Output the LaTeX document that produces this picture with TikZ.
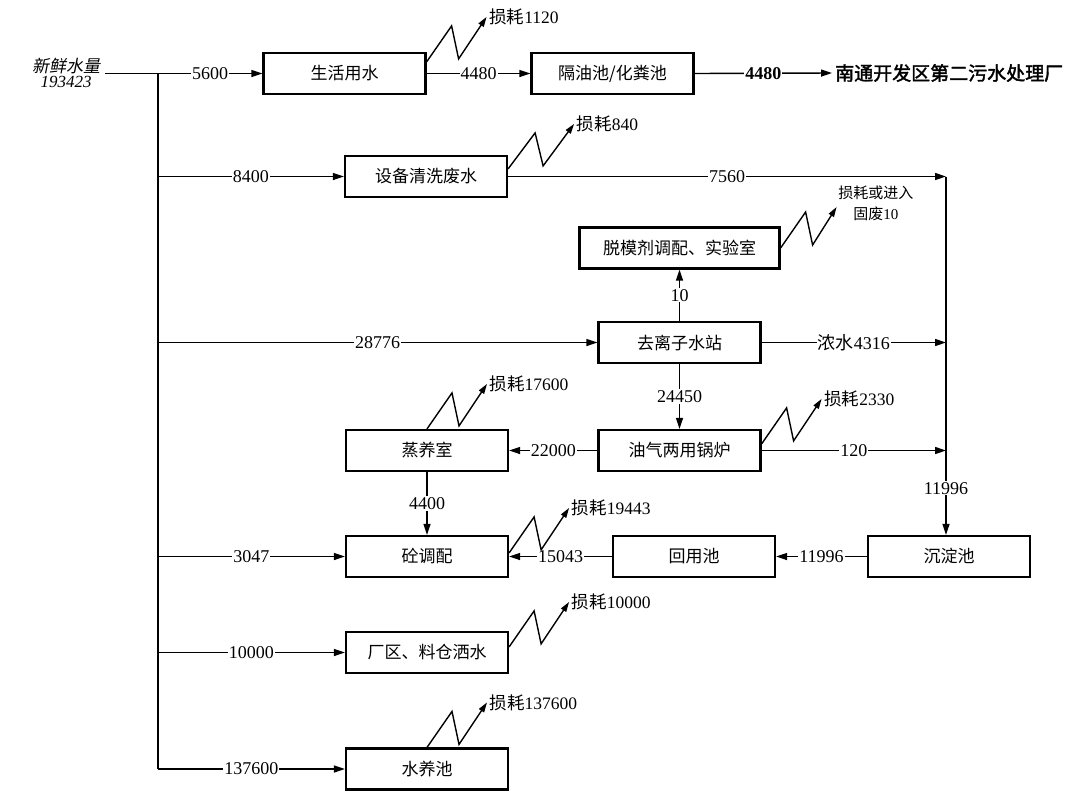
\documentclass[tikz,border=0pt]{standalone}
\usepackage{fontspec}
\setmainfont{Liberation Serif}
\newfontfamily\cjk{Noto Sans CJK SC}
\newfontfamily\cjkb{Noto Sans CJK SC}[FakeBold=2]
\newfontfamily\cjki{Noto Sans CJK SC}[FakeSlant=0.2]
\usetikzlibrary{arrows.meta,calc}
\begin{document}
\begin{tikzpicture}[x=1pt,y=-1pt,
  box/.style={draw, line width=2.2pt, minimum width=162pt, minimum height=41pt, inner sep=0pt,
    font=\fontsize{17}{19}\selectfont\cjk},
  flow/.style={line width=1.4pt, -{Triangle[length=11pt,width=7pt]}},
  plain/.style={line width=1.4pt},
  lbl/.style={fill=white, inner sep=1pt, font=\fontsize{18}{20}\selectfont},
  loss/.style={line width=1.4pt, -{Triangle[length=10pt,width=6pt]}},
  losslbl/.style={anchor=west, inner sep=2pt, font=\fontsize{17.5}{19}\selectfont}
]
\useasboundingbox (0,0) rectangle (1075,796);

% source
\node[align=center, inner sep=1pt, font=\fontsize{17}{18}\selectfont] (src) at (66,73)
  {{\cjki 新鲜水量}\\[-3pt]\textit{193423}};

% boxes
\node[box] (A) at (344.5,73.5) {生活用水};
\node[box] (B) at (612.5,73.5) {隔油池/化粪池};
\node[anchor=west, inner sep=3pt, font=\fontsize{19}{20}\selectfont\cjkb] (T) at (832,73) {南通开发区第二污水处理厂};
\node[box] (C) at (426,176.5) {设备清洗废水};
\node[box, minimum width=200pt] (D) at (679.5,248) {脱模剂调配、实验室};
\node[box] (E) at (679.5,342.5) {去离子水站};
\node[box] (F) at (679.5,450.5) {油气两用锅炉};
\node[box] (G) at (427,450.5) {蒸养室};
\node[box] (H) at (427,556.5) {砼调配};
\node[box] (I) at (694,556.5) {回用池};
\node[box] (J) at (949,556.5) {沉淀池};
\node[box] (K) at (427,652.5) {厂区、料仓洒水};
\node[box] (L) at (427,769) {水养池};

% trunk
\coordinate (j1) at (158,73.5);
\draw[plain] (src.east |- j1) ++(4,0) -- (j1);
\draw[plain] (j1) -- (j1 |- L.west);

% branches from trunk
\draw[flow] (j1) -- node[lbl]{5600} (A.west);
\draw[flow] (j1 |- C.west) -- node[lbl]{8400} (C.west);
\draw[flow] (j1 |- E.west) -- node[lbl]{28776} (E.west);
\draw[flow] (j1 |- H.west) -- node[lbl]{3047} (H.west);
\draw[flow] (j1 |- K.west) -- node[lbl]{10000} (K.west);
\draw[flow] (j1 |- L.west) -- node[lbl]{137600} (L.west);

% top row
\draw[flow] (A.east) -- node[lbl]{4480} (B.west);
\draw[flow] (B.east) -- node[lbl, font=\fontsize{18}{20}\selectfont\bfseries]{4480} (T.west);

% right collector
\coordinate (v0) at (946,176.5);
\draw[flow] (C.east) -- node[lbl]{7560} (v0);
\draw[flow] (v0) -- node[lbl, pos=0.87]{11996} (v0 |- J.north);
\draw[flow] (E.east) -- node[lbl]{{\cjk 浓水}4316} (E.east -| v0);
\draw[flow] (F.east) -- node[lbl]{120} (F.east -| v0);

% internal flows
\draw[flow] (E.north) -- node[lbl]{10} (D.south);
\draw[flow] (E.south) -- node[lbl]{24450} (F.north);
\draw[flow] (F.west) -- node[lbl]{22000} (G.east);
\draw[flow] (G.south) -- node[lbl]{4400} (H.north);
\draw[flow] (J.west) -- node[lbl]{11996} (I.east);
\draw[flow] (I.west) -- node[lbl]{15043} (H.east);

% losses
\draw[loss] ([yshift=-10pt]A.north east) -- ++(25,-36) -- ++(7,33) -- ++(28,-42)
  node[losslbl]{{\cjk 损耗}1120};
\draw[loss] ([yshift=-14pt]C.north east) -- ++(27,-36) -- ++(8,33) -- ++(31,-42)
  node[losslbl]{{\cjk 损耗}840};
\draw[loss] (D.east) -- ++(25,-36) -- ++(7,33) -- ++(24,-38)
  node[anchor=west, align=center, inner sep=1pt, yshift=4pt, font=\fontsize{15}{21}\selectfont]
  {{\cjk 损耗或进入}\\{\cjk 固废}10};
\draw[loss] ([yshift=-15pt]F.north east) -- ++(25,-36) -- ++(7,33) -- ++(28,-42)
  node[losslbl]{{\cjk 损耗}2330};
\draw[loss] (G.north) -- ++(25,-36) -- ++(7,33) -- ++(28,-42)
  node[losslbl]{{\cjk 损耗}17600};
\draw[loss] ([yshift=-18pt]H.north east) -- ++(25,-36) -- ++(7,33) -- ++(28,-42)
  node[losslbl]{{\cjk 损耗}19443};
\draw[loss] ([yshift=-16pt]K.north east) -- ++(25,-36) -- ++(7,33) -- ++(28,-42)
  node[losslbl]{{\cjk 损耗}10000};
\draw[loss] (L.north) -- ++(25,-36) -- ++(7,33) -- ++(28,-42)
  node[losslbl]{{\cjk 损耗}137600};
\end{tikzpicture}
\end{document}
